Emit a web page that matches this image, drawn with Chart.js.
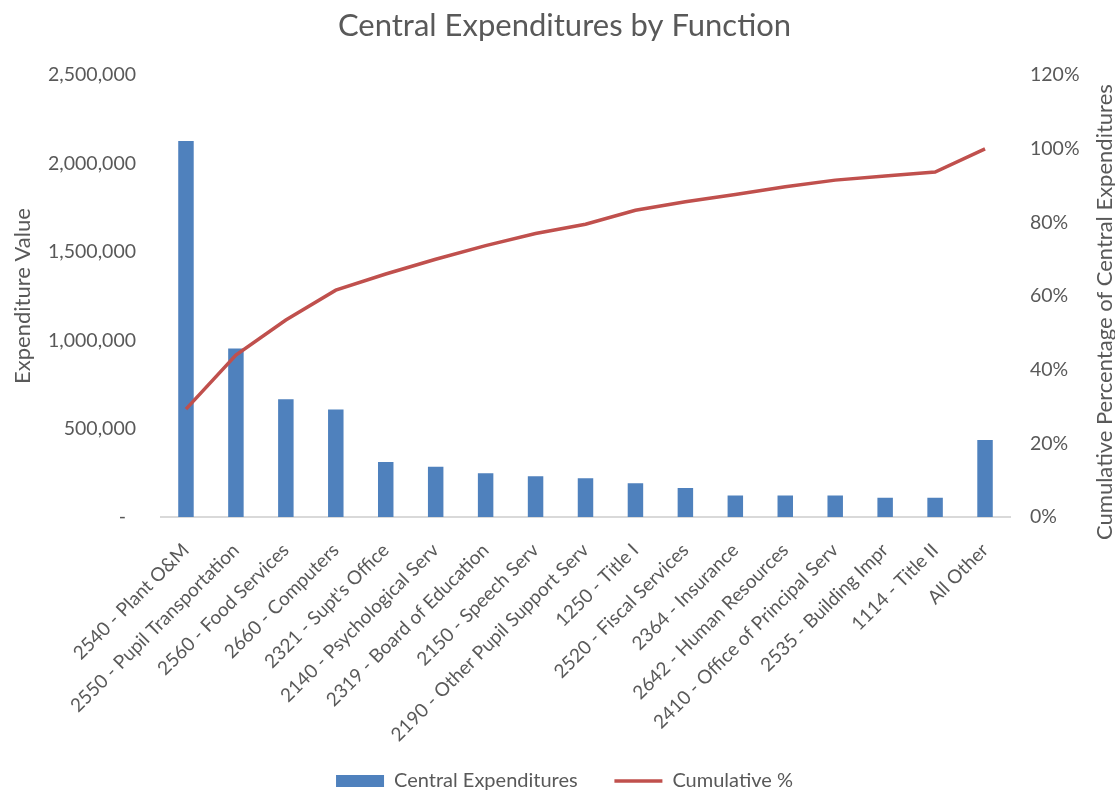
<!DOCTYPE html>
<html>
<head>
<meta charset="utf-8">
<title>Central Expenditures by Function</title>
<script src="https://cdn.jsdelivr.net/npm/chart.js@4/dist/chart.umd.min.js"></script>
<style>
    body { margin: 0; background: #ffffff; }
    #chartRef { display: block; }
</style>
</head>
<body>
<canvas id="chartRef" width="1115" height="792"></canvas>
<script>
const functionLabels = [
    "2540 - Plant O&M",
    "2550 - Pupil Transportation",
    "2560 - Food Services",
    "2660 - Computers",
    "2321 - Supt's Office",
    "2140 - Psychological Serv",
    "2319 - Board of Education",
    "2150 - Speech Serv",
    "2190 - Other Pupil Support Serv",
    "1250 - Title I",
    "2520 - Fiscal Services",
    "2364 - Insurance",
    "2642 - Human Resources",
    "2410 - Office of Principal Serv",
    "2535 - Building Impr",
    "1114 - Title II",
    "All Other"
];
const expenditureValues = [
    2127000, 954000, 666000, 609000, 311000, 285000, 247000, 230000, 219000,
    191000, 164000, 121000, 121000, 121000, 109000, 109000, 436000
];
// cumulative share (fraction of total)
const cumulativePct = [
    0.293, 0.440, 0.535, 0.616, 0.660, 0.700, 0.737, 0.770, 0.795,
    0.833, 0.856, 0.876, 0.897, 0.915, 0.926, 0.937, 1.000
];
const leftTicks = [0, 500000, 1000000, 1500000, 2000000, 2500000];
const rightTicks = [0, 0.2, 0.4, 0.6, 0.8, 1.0, 1.2];

const textColor = '#595959';
const fontFamily = 'Lato, "Open Sans", sans-serif';

// both axis titles read bottom-to-top in the original (Chart.js turns the right one the other way)
const axisTitles = {
    id: 'axisTitles',
    afterDraw(chart) {
        const c = chart.ctx;
        const area = chart.chartArea;
        c.save();
        c.fillStyle = textColor;
        c.font = '22px ' + fontFamily;
        c.textAlign = 'center';
        c.textBaseline = 'middle';

        c.save();
        c.translate(23, (area.top + area.bottom) / 2);
        c.rotate(-Math.PI / 2);
        c.fillText('Expenditure Value', 0, 0);
        c.restore();

        c.save();
        c.translate(1105, (area.top + area.bottom) / 2 + 16);
        c.rotate(-Math.PI / 2);
        c.fillText('Cumulative Percentage of Central Expenditures', 0, 0);
        c.restore();

        c.restore();
    }
};

const ctx = document.getElementById('chartRef').getContext('2d');

new Chart(ctx, {
    type: 'bar',
    data: {
        labels: functionLabels,
        datasets: [
            {
                label: 'Central Expenditures',
                data: expenditureValues,
                backgroundColor: '#4F81BD',
                yAxisID: 'y',
                order: 1,
                barPercentage: 0.62,
                categoryPercentage: 0.5
            },
            {
                type: 'line',
                label: 'Cumulative %',
                data: cumulativePct,
                borderColor: '#C0504D',
                backgroundColor: '#C0504D',
                borderWidth: 3.5,
                pointRadius: 0,
                tension: 0,
                yAxisID: 'y1',
                order: 0
            }
        ]
    },
    plugins: [axisTitles],
    options: {
        responsive: false,
        animation: false,
        layout: { padding: { left: 14, bottom: -9 } },
        plugins: {
            title: {
                display: true,
                text: 'Central Expenditures by Function',
                color: textColor,
                font: { family: fontFamily, size: 31, weight: 'normal' },
                padding: { top: 7, bottom: 31 }
            },
            legend: {
                position: 'bottom',
                labels: {
                    color: textColor,
                    font: { family: fontFamily, size: 20 },
                    usePointStyle: true,
                    pointStyleWidth: 48,
                    boxHeight: 12,
                    padding: 6,
                    sort: (a, b) => a.datasetIndex - b.datasetIndex,
                    generateLabels: (chart) => {
                        const items = Chart.defaults.plugins.legend.labels.generateLabels(chart);
                        items.forEach((item) => {
                            if (item.datasetIndex === 0) {
                                item.pointStyle = 'rect';
                                item.lineWidth = 0;
                                // a bit more room before the second entry, as in the original
                                item.text = item.text + '      ';
                            } else {
                                item.pointStyle = 'line';
                            }
                        });
                        return items;
                    }
                }
            },
            tooltip: { enabled: false }
        },
        scales: {
            x: {
                offset: true,
                grid: { display: false, drawTicks: false },
                border: { display: true, color: '#D9D9D9', width: 2 },
                ticks: {
                    color: textColor,
                    font: { family: fontFamily, size: 19 },
                    maxRotation: 45,
                    minRotation: 45,
                    autoSkip: false,
                    padding: 22
                },
                afterFit: (scale) => { scale.height = 248; }
            },
            y: {
                position: 'left',
                min: 0,
                max: 2500000,
                grid: { display: false, drawTicks: false },
                border: { display: false },
                afterBuildTicks: (scale) => {
                    scale.ticks = leftTicks.map((v) => ({ value: v }));
                },
                ticks: {
                    color: textColor,
                    font: { family: fontFamily, size: 19.5 },
                    padding: 25,
                    callback: (v) => v === 0 ? '-  ' : v.toLocaleString('en-US')
                },
                afterFit: (scale) => { scale.width = 147; }
            },
            y1: {
                position: 'right',
                min: 0,
                max: 1.2,
                grid: { display: false, drawTicks: false },
                border: { display: false },
                afterBuildTicks: (scale) => {
                    scale.ticks = rightTicks.map((v) => ({ value: v }));
                },
                ticks: {
                    color: textColor,
                    font: { family: fontFamily, size: 19.5 },
                    padding: 20,
                    callback: (v) => Math.round(v * 100) + '%'
                },
                afterFit: (scale) => { scale.width = 105; }
            }
        }
    }
});
</script>
</body>
</html>
